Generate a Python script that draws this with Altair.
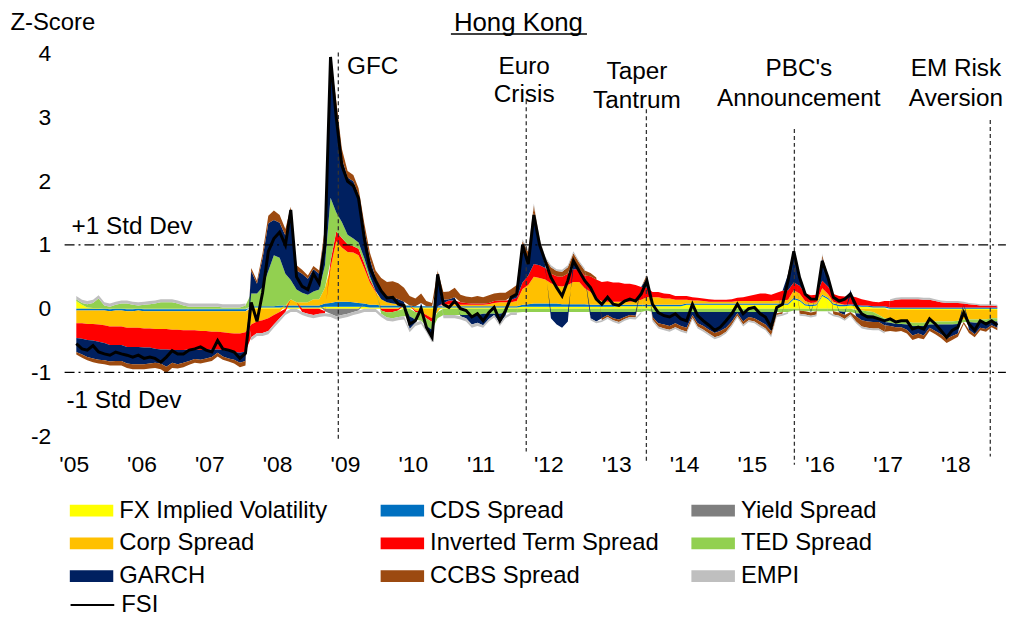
import altair as alt
import pandas as pd

F = "Liberation Sans"

# ---------------- data: monthly (mid-month) Jan 2005 - Aug 2018 ----------------
fx = [
    0.12, 0.06, 0.02, 0.01, 0.01, 0.0, -0.01, 0.0, 0.0, -0.01, -0.01, 0.0,
    -0.01, -0.01, -0.01, -0.01, -0.01, -0.01, -0.01, -0.01, -0.01, -0.01, -0.01, -0.01,
    -0.01, -0.01, -0.01, -0.01, -0.01, -0.01, -0.01, 0.02, 0.02, 0.02, 0.02, 0.02,
    0.02, 0.02, 0.02, 0.02, 0.02, 0.02, 0.02, 0.02, 0.03, 0.03, 0.03, 0.03,
    0.03, 0.03, 0.03, 0.03, 0.02, 0.02, 0.02, 0.02, 0.02, 0.02, 0.02, 0.02,
    0.02, 0.02, 0.02, 0.02, 0.02, 0.02, 0.02, 0.02, 0.02, 0.02, 0.02, 0.02,
    0.02, 0.02, 0.02, 0.02, 0.02, 0.02, 0.02, 0.03, 0.03, 0.03, 0.03, 0.03,
    0.03, 0.03, 0.03, 0.03, 0.03, 0.03, 0.03, 0.03, 0.03, 0.03, 0.03, 0.03,
    0.04, 0.04, 0.04, 0.04, 0.04, 0.04, 0.04, 0.04, 0.04, 0.04, 0.04, 0.04,
    0.06, 0.06, 0.06, 0.06, 0.06, 0.06, 0.06, 0.06, 0.06, 0.06, 0.06, 0.06,
    0.06, 0.06, 0.06, 0.06, 0.06, 0.06, 0.06, 0.15, 0.12, 0.05, 0.04, 0.05,
    0.2, 0.15, 0.06, 0.04, 0.04, 0.05, 0.04, 0.03, 0.03, 0.02, 0.02, 0.02,
    -0.02, -0.02, -0.02, -0.02, -0.02, -0.02, -0.02, -0.02, -0.02, -0.02, -0.02, -0.02,
    -0.02, -0.02, -0.02, -0.02, -0.02, -0.02, -0.02, -0.02,
]
cds = [
    -0.03, -0.03, -0.03, -0.03, -0.03, -0.03, -0.03, -0.03, -0.03, -0.03, -0.03, -0.03,
    -0.03, -0.03, -0.03, -0.03, -0.03, -0.03, -0.03, -0.03, -0.03, -0.03, -0.03, -0.03,
    -0.03, -0.03, -0.03, -0.03, -0.03, -0.03, -0.03, 0.02, 0.02, 0.02, 0.02, 0.02,
    0.03, 0.03, 0.03, 0.03, 0.03, 0.03, 0.03, 0.03, 0.05, 0.06, 0.08, 0.08,
    0.08, 0.07, 0.06, 0.05, 0.04, 0.04, 0.03, 0.03, 0.03, 0.03, 0.03, 0.03,
    0.02, 0.02, 0.02, 0.02, 0.02, 0.02, 0.02, 0.02, 0.02, 0.02, 0.02, 0.02,
    0.02, 0.02, 0.02, 0.02, 0.02, 0.02, 0.02, 0.03, 0.04, 0.05, 0.05, 0.05,
    0.05, 0.05, 0.04, 0.04, 0.04, 0.04, 0.04, 0.03, 0.03, 0.03, 0.03, 0.03,
    0.02, 0.02, 0.02, 0.02, 0.02, 0.02, 0.02, 0.02, 0.02, 0.02, 0.02, 0.02,
    0.02, 0.02, 0.02, 0.02, 0.02, 0.02, 0.02, 0.02, 0.02, 0.02, 0.02, 0.02,
    0.02, 0.02, 0.02, 0.02, 0.02, 0.02, 0.02, 0.02, 0.02, 0.02, 0.02, 0.02,
    0.02, 0.02, 0.02, 0.02, 0.02, 0.02, 0.02, 0.02, 0.02, 0.02, 0.02, 0.02,
    0.02, 0.02, 0.02, 0.02, 0.02, 0.02, 0.02, 0.02, 0.02, 0.02, 0.02, 0.02,
    0.02, 0.02, 0.02, 0.02, 0.02, 0.02, 0.02, 0.02,
]
yield_spread = [
    0.0, 0.0, 0.0, 0.0, 0.0, 0.0, 0.0, 0.0, 0.0, 0.0, 0.0, 0.0,
    0.0, 0.0, 0.0, 0.0, 0.0, 0.0, 0.0, 0.0, 0.0, 0.0, 0.0, 0.0,
    0.0, 0.0, 0.0, 0.0, 0.0, 0.0, 0.0, 0.0, 0.0, 0.0, 0.0, 0.0,
    0.0, 0.0, 0.0, 0.0, 0.0, 0.0, 0.0, 0.0, -0.04, -0.08, -0.12, -0.1,
    -0.08, -0.05, -0.03, 0.0, 0.0, 0.0, 0.0, 0.0, 0.0, 0.0, 0.0, 0.0,
    0.0, 0.0, 0.0, 0.0, 0.0, 0.0, 0.0, 0.0, 0.0, 0.0, 0.0, 0.0,
    0.0, 0.0, 0.0, 0.0, 0.0, 0.0, 0.0, 0.0, 0.0, 0.0, 0.0, 0.0,
    0.0, 0.0, 0.0, 0.0, 0.0, 0.0, 0.0, 0.0, 0.0, 0.0, 0.0, 0.0,
    0.0, 0.0, 0.0, 0.0, 0.0, 0.0, 0.0, 0.0, 0.0, 0.0, 0.0, 0.0,
    0.0, 0.0, 0.0, 0.0, 0.0, 0.0, 0.0, 0.0, 0.0, 0.0, 0.0, 0.0,
    0.0, 0.0, 0.0, 0.0, 0.0, 0.0, 0.0, 0.0, 0.0, 0.0, 0.0, 0.0,
    0.0, 0.0, 0.0, 0.0, 0.0, 0.0, 0.0, 0.0, 0.0, 0.0, 0.0, 0.0,
    0.0, 0.0, 0.0, 0.0, 0.0, 0.0, 0.0, 0.0, 0.0, 0.0, 0.0, 0.0,
    0.0, 0.0, 0.0, 0.0, 0.0, 0.0, 0.0, 0.0,
]
corp = [
    -0.2, -0.2, -0.21, -0.21, -0.22, -0.23, -0.24, -0.25, -0.25, -0.26, -0.26, -0.27,
    -0.27, -0.27, -0.28, -0.28, -0.28, -0.29, -0.29, -0.3, -0.3, -0.3, -0.31, -0.31,
    -0.32, -0.32, -0.33, -0.34, -0.35, -0.35, -0.33, -0.25, -0.2, -0.18, -0.15, -0.1,
    -0.05, 0.0, 0.1, 0.05, 0.05, 0.05, 0.1, 0.1, 0.25, 0.55, 0.95, 0.85,
    0.78, 0.78, 0.75, 0.55, 0.35, 0.2, 0.1, 0.05, 0.03, 0.02, 0.01, 0.0,
    -0.03, -0.05, -0.1, -0.15, -0.05, 0.02, 0.03, 0.03, 0.02, 0.02, 0.02, 0.02,
    0.02, 0.03, 0.05, 0.06, 0.06, 0.06, 0.08, 0.25, 0.3, 0.42, 0.4, 0.38,
    0.32, 0.28, 0.28, 0.3, 0.35, 0.35, 0.25, 0.2, 0.1, 0.06, 0.05, 0.05,
    0.05, 0.05, 0.05, 0.06, 0.08, 0.12, 0.12, 0.12, 0.1, 0.1, 0.08, 0.08,
    0.06, 0.05, 0.05, 0.04, 0.03, 0.03, 0.03, 0.03, 0.03, 0.04, 0.04, 0.04,
    0.04, 0.04, 0.04, 0.04, 0.05, 0.05, 0.06, 0.12, 0.1, 0.05, 0.03, 0.03,
    0.1, 0.06, 0.03, 0.02, 0.0, 0.0, -0.02, -0.03, -0.04, -0.05, -0.1, -0.15,
    -0.15, -0.17, -0.17, -0.18, -0.2, -0.2, -0.2, -0.18, -0.18, -0.18, -0.18, -0.18,
    -0.17, -0.15, -0.15, -0.15, -0.15, -0.15, -0.13, -0.13,
]
inverted_term = [
    -0.23, -0.24, -0.25, -0.26, -0.27, -0.28, -0.29, -0.29, -0.29, -0.3, -0.3, -0.3,
    -0.3, -0.3, -0.31, -0.32, -0.32, -0.32, -0.32, -0.31, -0.3, -0.3, -0.3, -0.29,
    -0.28, -0.28, -0.28, -0.28, -0.29, -0.3, -0.3, -0.2, -0.18, -0.2, -0.2, -0.15,
    -0.1, -0.05, 0.0, 0.0, -0.05, -0.08, -0.1, -0.08, -0.03, 0.1, 0.15, 0.15,
    0.12, 0.1, 0.1, 0.08, 0.05, 0.02, -0.03, -0.06, -0.05, -0.03, 0.0, 0.0,
    -0.02, -0.02, -0.05, -0.06, 0.0, 0.03, 0.06, 0.06, 0.04, 0.03, 0.02, 0.02,
    0.02, 0.02, 0.03, 0.03, 0.03, 0.04, 0.05, 0.1, 0.15, 0.2, 0.2, 0.18,
    0.15, 0.15, 0.15, 0.18, 0.2, 0.2, 0.2, 0.25, 0.3, 0.3, 0.32, 0.3,
    0.3, 0.28, 0.28, 0.25, 0.2, 0.15, 0.08, 0.08, 0.08, 0.07, 0.06, 0.06,
    0.06, 0.05, 0.04, 0.04, 0.04, 0.03, 0.03, 0.03, 0.04, 0.05, 0.06, 0.08,
    0.1, 0.12, 0.12, 0.1, 0.12, 0.15, 0.15, 0.12, 0.12, 0.12, 0.12, 0.12,
    0.12, 0.12, 0.12, 0.12, 0.13, 0.13, 0.12, 0.1, 0.08, 0.07, 0.06, 0.08,
    0.1, 0.12, 0.13, 0.13, 0.13, 0.13, 0.12, 0.12, 0.1, 0.08, 0.07, 0.07,
    0.07, 0.06, 0.05, 0.04, 0.03, 0.03, 0.03, 0.02,
]
ted = [
    0.03, 0.03, 0.05, 0.08, 0.15, 0.05, 0.03, 0.06, 0.08, 0.08, 0.06, 0.05,
    0.06, 0.07, 0.08, 0.1, 0.1, 0.1, 0.08, 0.05, 0.03, 0.03, 0.03, 0.03,
    0.03, 0.03, 0.02, 0.02, 0.02, 0.02, 0.05, 0.2, 0.2, 0.3, 0.55, 0.8,
    0.75, 0.5, 0.3, 0.2, 0.15, 0.12, 0.12, 0.15, 0.35, 1.0, 0.3, 0.25,
    0.15, 0.12, 0.1, 0.08, 0.05, 0.0, -0.05, -0.08, -0.1, -0.1, -0.12, -0.12,
    -0.12, -0.12, -0.12, -0.12, -0.1, -0.1, -0.1, -0.1, -0.1, -0.1, -0.1, -0.1,
    -0.08, -0.08, -0.08, -0.08, -0.06, -0.06, -0.06, -0.05, -0.05, -0.05, -0.05, -0.05,
    -0.05, -0.05, -0.05, -0.05, -0.05, -0.05, -0.05, -0.05, -0.05, -0.05, -0.05, -0.05,
    -0.05, -0.05, -0.05, -0.05, -0.05, -0.03, -0.05, -0.05, -0.05, -0.05, -0.05, -0.05,
    -0.05, -0.05, -0.05, -0.05, -0.05, -0.05, -0.05, -0.05, -0.05, -0.05, -0.05, -0.05,
    -0.05, -0.05, -0.05, -0.05, -0.05, -0.05, -0.05, -0.03, -0.03, -0.04, -0.04, -0.04,
    -0.04, -0.04, -0.04, -0.04, -0.05, -0.05, -0.05, -0.05, -0.06, -0.06, -0.06, -0.06,
    -0.05, -0.05, -0.05, -0.05, -0.05, -0.05, -0.05, -0.05, -0.05, -0.05, -0.05, -0.05,
    -0.05, -0.04, -0.04, -0.05, -0.05, -0.05, -0.05, -0.05,
]
garch = [
    -0.22, -0.25, -0.27, -0.28, -0.28, -0.27, -0.26, -0.25, -0.25, -0.26, -0.27, -0.27,
    -0.26, -0.25, -0.22, -0.22, -0.27, -0.2, -0.22, -0.2, -0.18, -0.15, -0.15, -0.14,
    -0.12, -0.05, -0.1, -0.12, -0.12, -0.16, -0.15, 0.35, 0.15, 0.45, 0.75, 0.55,
    0.55, 0.6, 1.05, 0.3, 0.3, 0.25, 0.35, 0.25, 0.5, 2.0, 1.6, 1.0,
    0.9, 0.9, 0.75, 0.45, 0.27, 0.2, 0.13, 0.1, 0.1, 0.08, 0.05, -0.2,
    -0.05, 0.05, -0.05, -0.15, 0.4, 0.05, 0.02, 0.05, -0.02, -0.05, -0.15, -0.12,
    -0.18, -0.08, -0.02, -0.15, -0.05, 0.05, 0.08, 0.5, 0.25, 0.8, 0.3, 0.05,
    -0.1, -0.2, -0.25, -0.15, 0.15, 0.0, 0.0, -0.1, -0.15, -0.1, -0.05, -0.1,
    -0.12, -0.08, -0.05, -0.06, 0.0, 0.15, -0.08, -0.18, -0.2, -0.22, -0.18, -0.22,
    -0.25, -0.05, -0.18, -0.22, -0.28, -0.33, -0.3, -0.25, -0.15, -0.02, -0.15, -0.08,
    -0.1, -0.15, -0.2, -0.3, -0.02, 0.0, 0.25, 0.45, 0.15, 0.0, -0.02, 0.0,
    0.35, 0.15, 0.0, -0.02, -0.05, 0.1, -0.05, -0.1, -0.1, -0.1, -0.05, -0.05,
    -0.05, -0.05, -0.05, -0.08, -0.15, -0.12, -0.15, -0.05, -0.1, -0.15, -0.22, -0.18,
    -0.15, 0.0, -0.12, -0.18, -0.08, -0.1, -0.06, -0.1,
]
ccbs = [
    -0.04, -0.05, -0.05, -0.06, -0.06, -0.06, -0.06, -0.07, -0.07, -0.07, -0.08, -0.08,
    -0.08, -0.08, -0.08, -0.09, -0.1, -0.08, -0.07, -0.07, -0.06, -0.06, -0.06, -0.06,
    -0.06, -0.06, -0.05, -0.05, -0.06, -0.07, -0.07, 0.05, 0.05, 0.08, 0.12, 0.15,
    0.12, 0.1, 0.1, 0.08, 0.06, 0.05, 0.05, 0.05, 0.1, 0.2, 0.15, 0.15,
    0.1, 0.1, 0.1, 0.1, 0.1, 0.12, 0.2, 0.22, 0.25, 0.25, 0.22, 0.15,
    0.12, 0.15, 0.08, 0.05, 0.15, 0.12, 0.12, 0.15, 0.12, 0.1, 0.1, 0.12,
    0.1, 0.12, 0.12, 0.12, 0.12, 0.12, 0.12, 0.15, 0.12, 0.12, 0.1, 0.1,
    0.1, 0.08, 0.08, 0.1, 0.1, 0.1, 0.08, 0.05, 0.03, -0.03, -0.03, -0.03,
    -0.04, -0.03, -0.03, -0.03, 0.0, 0.05, -0.04, -0.05, -0.06, -0.06, -0.06, -0.06,
    -0.06, -0.04, -0.05, -0.06, -0.06, -0.07, -0.07, -0.06, -0.05, -0.04, -0.05, -0.05,
    -0.05, -0.06, -0.06, -0.07, -0.03, -0.03, 0.02, 0.05, -0.05, -0.05, -0.05, -0.05,
    0.05, 0.0, -0.05, -0.05, -0.06, -0.04, -0.08, -0.1, -0.1, -0.1, -0.1, -0.1,
    -0.08, -0.07, -0.06, -0.06, -0.07, -0.07, -0.06, -0.05, -0.05, -0.06, -0.07, -0.06,
    -0.05, -0.03, -0.05, -0.05, -0.04, -0.04, -0.03, -0.04,
]
empi = [
    0.05, 0.05, 0.05, 0.05, 0.05, 0.05, 0.05, 0.05, 0.05, 0.05, 0.05, 0.05,
    0.05, 0.05, 0.05, 0.05, 0.05, 0.05, 0.05, 0.05, 0.05, 0.05, 0.05, 0.05,
    0.05, 0.05, 0.05, 0.05, 0.05, 0.05, 0.03, -0.05, -0.05, -0.05, -0.05, -0.05,
    -0.05, -0.05, -0.05, -0.05, -0.05, -0.05, -0.05, -0.05, -0.05, -0.05, -0.05, -0.05,
    -0.05, -0.05, -0.05, -0.05, -0.05, -0.05, -0.05, -0.05, -0.05, -0.05, -0.05, -0.05,
    -0.05, -0.05, -0.05, -0.05, 0.03, -0.05, -0.05, -0.05, -0.05, -0.05, -0.05, -0.05,
    -0.04, -0.04, -0.04, -0.04, -0.04, -0.04, -0.04, 0.03, 0.03, 0.03, 0.03, 0.03,
    0.03, 0.03, 0.03, 0.03, 0.03, 0.03, 0.03, -0.03, -0.03, -0.03, -0.03, -0.03,
    -0.03, -0.03, -0.03, -0.03, -0.03, 0.02, -0.03, -0.03, -0.03, -0.03, -0.03, -0.03,
    -0.03, -0.03, -0.03, -0.03, -0.03, -0.03, -0.03, -0.03, -0.03, -0.03, -0.03, -0.03,
    -0.03, -0.03, -0.03, -0.03, -0.03, -0.03, -0.03, 0.03, -0.03, -0.03, -0.03, -0.03,
    0.03, -0.03, -0.03, -0.03, -0.03, -0.03, -0.03, -0.03, -0.03, -0.03, -0.03, -0.03,
    0.03, 0.03, 0.03, 0.03, 0.03, 0.03, 0.03, 0.03, 0.03, 0.03, 0.03, 0.03,
    0.03, 0.03, 0.02, 0.02, 0.02, 0.02, 0.02, 0.02,
]
fsi = [
    -0.55, -0.63, -0.65, -0.58, -0.68, -0.71, -0.73, -0.68, -0.71, -0.73, -0.76, -0.73,
    -0.78, -0.76, -0.78, -0.84, -0.76, -0.66, -0.71, -0.71, -0.65, -0.63, -0.6, -0.65,
    -0.68, -0.5, -0.63, -0.65, -0.68, -0.78, -0.7, 0.1, -0.2, 0.25, 0.9, 1.1,
    1.2, 1.0, 1.55, 0.5, 0.35, 0.3, 0.55, 0.4, 1.0, 3.95, 3.0, 2.25,
    2.0, 1.93, 1.73, 1.1, 0.64, 0.44, 0.28, 0.17, 0.18, 0.07, 0.05, -0.24,
    -0.19, 0.0, -0.29, -0.45, 0.54, 0.07, 0.02, 0.12, 0.0, -0.03, -0.13, -0.08,
    -0.19, -0.06, 0.02, -0.19, -0.03, 0.18, 0.23, 1.0, 0.7, 1.47, 1.0, 0.75,
    0.49, 0.33, 0.2, 0.44, 0.75, 0.59, 0.44, 0.33, 0.15, 0.07, 0.18, 0.07,
    0.05, 0.12, 0.15, 0.12, 0.23, 0.44, 0.07, -0.06, -0.11, -0.13, -0.08, -0.16,
    -0.19, 0.07, -0.11, -0.19, -0.26, -0.34, -0.29, -0.19, -0.08, 0.07, -0.08, 0.0,
    0.02, -0.08, -0.13, -0.29, 0.02, 0.07, 0.44, 0.9, 0.49, 0.23, 0.15, 0.15,
    0.75, 0.49, 0.18, 0.12, 0.15, 0.23, 0.05, -0.08, -0.13, -0.13, -0.16, -0.19,
    -0.16, -0.21, -0.19, -0.19, -0.32, -0.29, -0.32, -0.16, -0.24, -0.34, -0.45, -0.34,
    -0.29, -0.06, -0.24, -0.34, -0.19, -0.24, -0.19, -0.26,
]

# stacking order (closest to zero first)
series_names = ["FX Implied Volatility", "CDS Spread", "Yield Spread",
                "Corp Spread", "Inverted Term Spread", "TED Spread",
                "GARCH", "CCBS Spread", "EMPI"]
series_colors = ["#FFFF00", "#0070C0", "#7F7F7F",
                 "#FFC000", "#FF0000", "#92D050",
                 "#002060", "#9C4A10", "#BFBFBF"]
series_values = [fx, cds, yield_spread, corp, inverted_term, ted, garch, ccbs, empi]

# legend is filled column by column: list entries so rows read as in the original
legend_order = ["FX Implied Volatility", "Corp Spread", "GARCH",
                "CDS Spread", "Inverted Term Spread", "CCBS Spread",
                "Yield Spread", "TED Spread", "EMPI"]
legend_colors = [series_colors[series_names.index(s)] for s in legend_order]

event_names = ["GFC", "Euro Crisis", "Taper Tantrum", "PBC's Announcement", "EM Risk Aversion"]
event_dates = ["2008-11-26", "2011-09-04", "2013-06-12", "2015-08-18", "2018-07-08"]
event_top = [4.02, 3.27, 3.13, 2.82, 2.96]
event_bottom = [-2.06, -2.24, -2.4, -2.45, -2.32]

center_labels = ["Euro", "Crisis", "Taper", "Tantrum", "PBC's", "Announcement", "EM Risk", "Aversion"]
center_dates = ["2011-08-24", "2011-08-24", "2013-04-22", "2013-04-22",
                "2015-09-11", "2015-09-11", "2018-01-04", "2018-01-04"]
center_values = [3.69, 3.24, 3.6, 3.15, 3.645, 3.18, 3.645, 3.18]

left_labels = ["GFC", "+1 Std Dev", "-1 Std Dev"]
left_dates = ["2009-01-12", "2004-12-20", "2004-11-23"]
left_values = [3.69, 1.17, -1.56]

std_levels = [1, -1]
std_start = "2004-11-13"
std_end = "2018-09-30"

year_ticks = list(range(2005, 2019))

# ---------------- frames ----------------
n = len(fsi)
dates = pd.date_range("2005-01-01", periods=n, freq="MS") + pd.Timedelta(days=14)
for v in series_values:
    assert len(v) == n

rows = []
for k, (name, vals) in enumerate(zip(series_names, series_values)):
    for d, v in zip(dates, vals):
        rows.append({"date": d, "series": name, "value": v, "ord": k})
comp_df = pd.DataFrame(rows)
fsi_df = pd.DataFrame({"date": dates, "value": fsi, "name": "FSI"})
ev_df = pd.DataFrame({"date": pd.to_datetime(event_dates), "value": event_top,
                      "bottom": event_bottom, "event": event_names})
std_df = pd.DataFrame({"date": pd.to_datetime([std_start] * 2), "end": pd.to_datetime([std_end] * 2),
                       "value": std_levels})
cen_df = pd.DataFrame({"date": pd.to_datetime(center_dates), "value": center_values, "text": center_labels})
left_df = pd.DataFrame({"date": pd.to_datetime(left_dates), "value": left_values, "text": left_labels})

# ---------------- shared encodings ----------------
x_scale = alt.Scale(domain=[alt.DateTime(year=2004, month=11, date=13),
                            alt.DateTime(year=2018, month=9, date=4)])
y_scale = alt.Scale(domain=[-2, 4], nice=False, zero=False)

x_axis = alt.Axis(values=[alt.DateTime(year=y, month=1, date=1) for y in year_ticks],
                  format="'%y", labelFontSize=23, labelColor="black", labelFont=F,
                  ticks=False, domain=False, grid=False, labelPadding=18, title=None,
                  labelOverlap=False, labelFlush=False)
y_axis = alt.Axis(values=[-2, -1, 0, 1, 2, 3, 4], labelExpr="'' + datum.value",
                  labelFontSize=23, labelColor="black", labelFont=F,
                  ticks=False, domain=False, grid=False, labelPadding=14,
                  title="Z-Score", titleAngle=0, titleAlign="left", titleBaseline="alphabetic",
                  titleX=-55, titleY=-24, titleFontSize=24, titleFontWeight="normal",
                  titleFont=F, titleColor="black")


def X(field="date"):
    return alt.X(f"{field}:T", scale=x_scale, axis=x_axis)


def Y(field="value", **kw):
    return alt.Y(f"{field}:Q", scale=y_scale, axis=y_axis, **kw)


areas = alt.Chart(comp_df).mark_area(opacity=1, strokeWidth=0).encode(
    x=X(),
    y=Y(stack="zero"),
    color=alt.Color("series:N",
                    scale=alt.Scale(domain=legend_order, range=legend_colors),
                    legend=alt.Legend(title=None, orient="none", legendX=5, legendY=448,
                                      columns=3, gridAlign="all", columnPadding=32,
                                      rowPadding=9, clipHeight=24,
                                      symbolType="M-1,-0.27L1,-0.27L1,0.27L-1,0.27Z",
                                      symbolSize=1936, symbolStrokeWidth=0, symbolOpacity=1,
                                      labelFont=F, labelFontSize=24, labelColor="black",
                                      labelOffset=6, labelLimit=400)),
    order=alt.Order("ord:Q", sort="ascending"),
)

std_rules = alt.Chart(std_df).mark_rule(color="black", strokeWidth=1.2,
                                        strokeDash=[10, 4, 2, 4]).encode(
    x=X(), x2="end:T", y=Y())

ev_rules = alt.Chart(ev_df).mark_rule(color="#333333", strokeWidth=1.3,
                                      strokeDash=[4, 3]).encode(
    x=X(), y=Y(), y2="bottom:Q")

fsi_line = alt.Chart(fsi_df).mark_line(strokeWidth=3, interpolate="linear").encode(
    x=X(), y=Y(),
    color=alt.Color("name:N", scale=alt.Scale(domain=["FSI"], range=["black"]),
                    legend=alt.Legend(title=None, orient="none", legendX=5, legendY=543,
                                      clipHeight=24, symbolType="stroke", symbolSize=1936,
                                      symbolStrokeWidth=2, labelFont=F, labelFontSize=24,
                                      labelColor="black", labelOffset=6)),
)

cen_text = alt.Chart(cen_df).mark_text(font=F, fontSize=24.5, color="black", align="center",
                                       baseline="alphabetic").encode(
    x=X(), y=Y(), text="text:N")
left_text = alt.Chart(left_df).mark_text(font=F, fontSize=24.5, color="black", align="left",
                                         baseline="alphabetic").encode(
    x=X(), y=Y(), text="text:N")

title_text = alt.Chart(pd.DataFrame({"t": ["Hong Kong"]})).mark_text(
    font=F, fontSize=26, color="black", align="center", baseline="alphabetic").encode(
    x=alt.value(457), y=alt.value(-23), text="t:N")
underline = alt.Chart(pd.DataFrame({"t": ["Hong Kong"]})).mark_rule(
    color="black", strokeWidth=1.5).encode(
    x=alt.value(389), x2=alt.value(526), y=alt.value(-20))

chart = alt.layer(areas, std_rules, ev_rules, fsi_line, cen_text, left_text,
                  title_text, underline).resolve_scale(color="independent").properties(
    width=943, height=385,
    padding={"left": 57, "top": 44, "right": 8, "bottom": 179},
    autosize=alt.AutoSizeParams(type="none"),
    background="white",
).configure_view(stroke=None)

chart.save("out.html", embed_options={"renderer": "svg", "actions": False})
